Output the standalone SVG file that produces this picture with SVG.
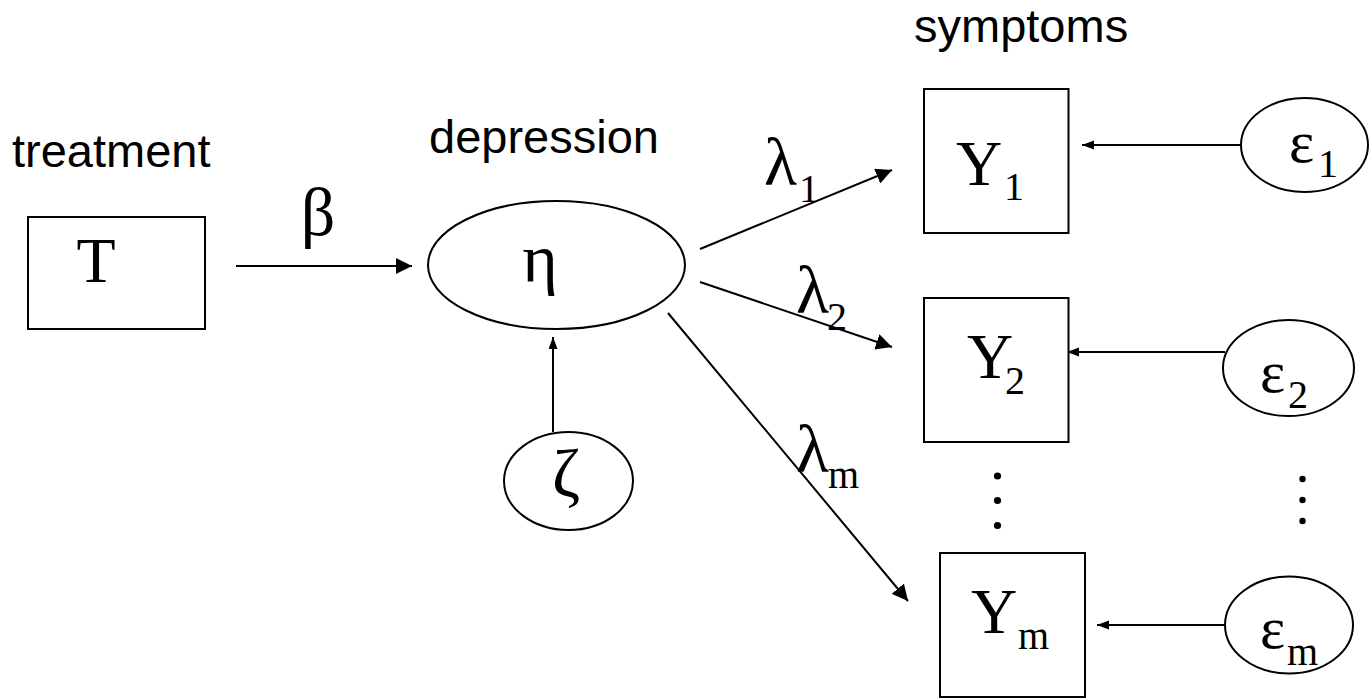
<svg xmlns="http://www.w3.org/2000/svg" width="1370" height="699" viewBox="0 0 1370 699">
<style>
.box{fill:#fff;stroke:#000;stroke-width:2}
.ell{fill:#fff;stroke:#000;stroke-width:2}
.lbl{font-family:"Liberation Sans",Arial,sans-serif;font-size:47px;fill:#000}
.sym{font-family:"Liberation Serif","Times New Roman",serif;font-size:64px;fill:#000}
.gr{font-family:"Liberation Serif","Times New Roman",serif;font-size:68px;fill:#000}
.ep{font-family:"Liberation Serif","Times New Roman",serif;font-size:60px;fill:#000}
.sub{font-size:40px}
.big{stroke:#000;stroke-width:2;fill:none;marker-end:url(#ah)}
.small{stroke:#000;stroke-width:2;fill:none;marker-end:url(#ahs)}
</style>
<defs>
<marker id="ah" markerUnits="userSpaceOnUse" markerWidth="17" markerHeight="16" refX="16" refY="8" orient="auto">
<path d="M0,0 L16,8 L0,16 z" fill="#000"/>
</marker>
<marker id="ahs" markerUnits="userSpaceOnUse" markerWidth="13" markerHeight="10" refX="12" refY="4.5" orient="auto">
<path d="M0,0 L12,4.5 L0,9 z" fill="#000"/>
</marker>
</defs>
<rect width="1370" height="699" fill="#fff"/>
<g id="labels">
<text class="lbl" x="12" y="167">treatment</text>
<text class="lbl" x="429" y="153">depression</text>
<text class="lbl" x="914" y="42">symptoms</text>
</g>
<g id="connectors">
<line class="big" x1="236" y1="266" x2="412" y2="266"/>
<line class="small" x1="553" y1="432" x2="553" y2="337"/>
<line class="big" x1="700" y1="249" x2="892" y2="170"/>
<line class="big" x1="700" y1="282" x2="892" y2="347"/>
<line class="big" x1="668" y1="313" x2="908" y2="601"/>
<line class="small" x1="1241" y1="145" x2="1082" y2="145"/>
<line class="small" x1="1225" y1="352" x2="1067" y2="352"/>
<line class="small" x1="1225" y1="625" x2="1097" y2="625"/>
<text class="gr" x="318" y="235" text-anchor="middle">β</text>
<text class="gr" x="764" y="185">λ<tspan class="sub" x="799" y="202">1</tspan></text>
<text class="gr" x="796" y="313">λ<tspan class="sub" x="827" y="330">2</tspan></text>
<text class="gr" x="796" y="472">λ<tspan class="sub" x="828" y="488">m</tspan></text>
</g>
<g id="node-T">
<rect class="box" x="28" y="217" width="177" height="112"/>
<text class="sym" x="96" y="282" text-anchor="middle">T</text>
</g>
<g id="node-eta">
<ellipse class="ell" cx="556.5" cy="265" rx="128.5" ry="64"/>
<text class="gr" x="540" y="282" text-anchor="middle">η</text>
</g>
<g id="node-zeta">
<ellipse class="ell" cx="568.5" cy="481" rx="64.5" ry="49"/>
<text class="gr" x="566" y="496" text-anchor="middle">ζ</text>
</g>
<g id="node-Y1">
<rect class="box" x="924" y="89" width="144.5" height="144"/>
<text class="sym" x="956" y="185">Y<tspan class="sub" x="1004" y="200">1</tspan></text>
</g>
<g id="node-Y2">
<rect class="box" x="924" y="298" width="144.5" height="144"/>
<text class="sym" x="967" y="378">Y<tspan class="sub" x="1005" y="394">2</tspan></text>
</g>
<g id="node-Ym">
<rect class="box" x="940" y="553" width="145" height="144"/>
<text class="sym" x="971" y="633">Y<tspan class="sub" x="1018" y="649">m</tspan></text>
</g>
<g id="node-e1">
<ellipse class="ell" cx="1304.5" cy="145" rx="63.5" ry="47"/>
<text class="ep" x="1289" y="162">ε<tspan class="sub" x="1318" y="177">1</tspan></text>
</g>
<g id="node-e2">
<ellipse class="ell" cx="1288.5" cy="368" rx="65.5" ry="48"/>
<text class="ep" x="1260" y="392">ε<tspan class="sub" x="1288" y="408">2</tspan></text>
</g>
<g id="node-em">
<ellipse class="ell" cx="1289" cy="625" rx="64" ry="48.5"/>
<text class="ep" x="1260" y="648">ε<tspan class="sub" x="1287" y="665">m</tspan></text>
</g>
<g id="dots">
<circle cx="997.5" cy="476" r="3.6"/>
<circle cx="997.5" cy="500.5" r="3.6"/>
<circle cx="997.5" cy="525.5" r="3.6"/>
<circle cx="1302.5" cy="479" r="3.2"/>
<circle cx="1302.5" cy="500" r="3.2"/>
<circle cx="1302.5" cy="521" r="3.2"/>
</g>
</svg>
